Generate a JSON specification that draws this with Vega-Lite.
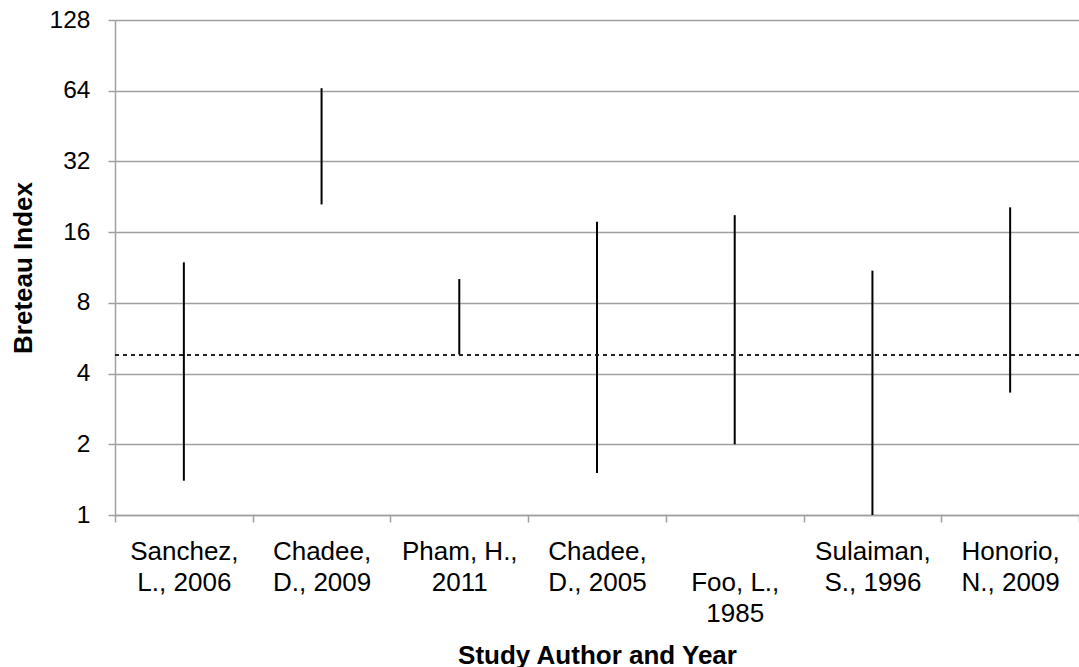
{
  "$schema": "https://vega.github.io/schema/vega-lite/v6.json",
  "width": 964,
  "height": 495,
  "autosize": "none",
  "padding": {"left": 115, "top": 20, "right": 0, "bottom": 152},
  "background": "white",
  "config": {
    "view": {"stroke": null},
    "font": "Liberation Sans",
    "axis": {"labelFont": "Liberation Sans", "titleFont": "Liberation Sans", "labelColor": "#000000", "titleColor": "#000000"}
  },
  "data": {
    "values": [
      {"study": "Sanchez,|L., 2006", "low": 1.40, "high": 11.9},
      {"study": "Chadee,|D., 2009", "low": 21.0, "high": 65.6},
      {"study": "Pham, H.,|2011", "low": 4.82, "high": 10.1},
      {"study": "Chadee,|D., 2005", "low": 1.51, "high": 17.7},
      {"study": "|Foo, L.,|1985", "low": 2.0, "high": 18.9},
      {"study": "Sulaiman,|S., 1996", "low": 1.0, "high": 10.97},
      {"study": "Honorio,|N., 2009", "low": 3.32, "high": 20.4}
    ]
  },
  "layer": [
    {
      "mark": {"type": "rule", "color": "#000000", "strokeWidth": 2},
      "encoding": {
        "x": {
          "field": "study",
          "type": "nominal",
          "sort": null,
          "scale": {"paddingInner": 0, "paddingOuter": 0},
          "axis": {
            "title": "Study Author and Year",
            "titleFontSize": 26,
            "titleFontWeight": "bold",
            "titleY": 148,
            "titleBaseline": "alphabetic",
            "labelExpr": "datum.value ? split(datum.value, '|') : ''",
            "labelAngle": 0,
            "labelFontSize": 26,
            "labelLineHeight": 31,
            "labelBaseline": "top",
            "labelPadding": 16.5,
            "tickBand": "extent",
            "tickSize": 7,
            "tickColor": "#a0a0a0",
            "tickWidth": 1.5,
            "domainColor": "#a0a0a0",
            "domainWidth": 1.5,
            "grid": false
          }
        },
        "y": {
          "field": "low",
          "type": "quantitative",
          "scale": {"type": "log", "base": 2, "domain": [1, 128], "nice": false},
          "axis": {
            "title": "Breteau Index",
            "titleFontSize": 26,
            "titleFontWeight": "bold",
            "titleX": -92,
            "titleY": 247.5,
            "titleBaseline": "middle",
            "titleAngle": -90,
            "values": [1, 2, 4, 8, 16, 32, 64, 128],
            "format": "d",
            "labelFontSize": 24.5,
            "labelPadding": 18,
            "tickSize": 7,
            "tickColor": "#a0a0a0",
            "tickWidth": 1.5,
            "domainColor": "#a0a0a0",
            "domainWidth": 1.5,
            "grid": true,
            "gridColor": "#a0a0a0",
            "gridWidth": 1.5
          }
        },
        "y2": {"field": "high"}
      }
    },
    {
      "mark": {"type": "rule", "color": "#222222", "strokeWidth": 1.5, "strokeDash": [4, 4]},
      "encoding": {
        "y": {"datum": 4.8, "type": "quantitative"}
      }
    }
  ]
}
